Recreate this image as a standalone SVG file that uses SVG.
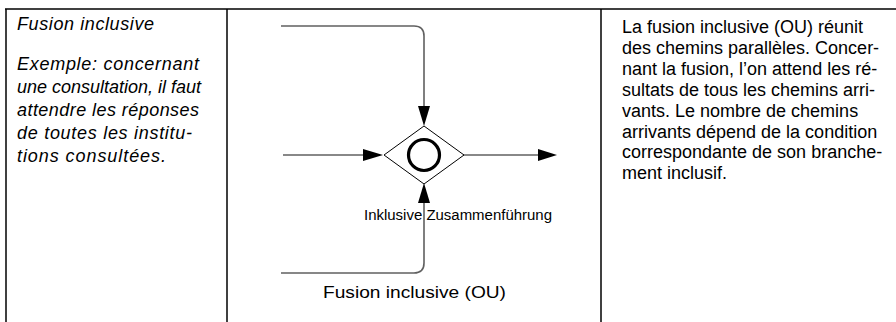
<svg xmlns="http://www.w3.org/2000/svg" width="896" height="322" viewBox="0 0 896 322">
<style>
.grid{stroke:#000;stroke-width:1.5;fill:none}
.conn{stroke:#606060;stroke-width:1.6;fill:none}
.head{fill:#000}
.t{font-family:"Liberation Sans",Arial,sans-serif;fill:#000}
.it{font-style:italic;font-size:18px}
.rt{font-size:18px}
</style>
<rect width="896" height="322" fill="#fff"/>
<g id="table">
<line class="grid" x1="5" y1="9" x2="896" y2="9"/>
<line class="grid" x1="6" y1="9" x2="6" y2="322"/>
<line class="grid" x1="227" y1="9" x2="227" y2="322"/>
<line class="grid" x1="601" y1="9" x2="601" y2="322"/>
</g>
<g id="left-text" class="t it">
<text x="17" y="30" textLength="137" lengthAdjust="spacing">Fusion inclusive</text>
<text x="17" y="70" textLength="182" lengthAdjust="spacing">Exemple: concernant</text>
<text x="17" y="93">une consultation, il faut</text>
<text x="17" y="116" textLength="182" lengthAdjust="spacing">attendre les réponses</text>
<text x="17" y="139" textLength="175" lengthAdjust="spacing">de toutes les institu-</text>
<text x="17" y="162" textLength="149" lengthAdjust="spacing">tions consultées.</text>
</g>
<g id="connectors">
<path class="conn" d="M281,26 H414 Q424,26 424,36 V107"/>
<polygon class="head" points="418,106 430,106 424,126"/>
<path class="conn" d="M283,155 H364"/>
<polygon class="head" points="363,149 363,161 383,155"/>
<path class="conn" d="M463,155 H539"/>
<polygon class="head" points="538,149 538,161 557,155"/>
<path class="conn" d="M281,273 H414 Q424,273 424,263 V202"/>
<polygon class="head" points="418,203 430,203 424,183"/>
</g>
<g id="gateway">
<polygon points="424,126 464,155 424,184 384,155" fill="#fff" stroke="#000" stroke-width="1"/>
<circle cx="424" cy="155" r="15.5" fill="none" stroke="#000" stroke-width="3.2"/>
<text class="t" x="458" y="220" font-size="14" text-anchor="middle" textLength="188" lengthAdjust="spacingAndGlyphs">Inklusive Zusammenführung</text>
</g>
<g id="caption">
<text class="t" x="414.5" y="298" font-size="17" text-anchor="middle" textLength="183" lengthAdjust="spacingAndGlyphs">Fusion inclusive (OU)</text>
</g>
<g id="right-text" class="t rt">
<text x="622" y="33">La fusion inclusive (OU) réunit</text>
<text x="622" y="54">des chemins parallèles. Concer-</text>
<text x="622" y="75">nant la fusion, l’on attend les ré-</text>
<text x="622" y="96">sultats de tous les chemins arri-</text>
<text x="622" y="117">vants. Le nombre de chemins</text>
<text x="622" y="138">arrivants dépend de la condition</text>
<text x="622" y="158">correspondante de son branche-</text>
<text x="622" y="179">ment inclusif.</text>
</g>
</svg>
